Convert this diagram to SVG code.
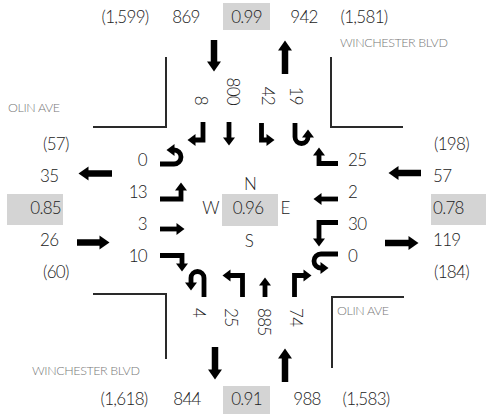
<svg xmlns="http://www.w3.org/2000/svg" width="486" height="414" viewBox="0 0 486 414">
<defs>
<style>
.n{font-family:Lato,"Liberation Sans",sans-serif;font-weight:300;font-size:17px;fill:#222;letter-spacing:-0.7px}
.m{text-anchor:middle}
.e{text-anchor:end}
.r{font-family:Lato,"Liberation Sans",sans-serif;font-weight:300;font-size:12.5px;fill:#777;letter-spacing:-0.4px}
.box{fill:#d4d4d4}
.curb{fill:none;stroke:#2a2a2a;stroke-width:2}
.a{fill:none;stroke:#000;stroke-width:4.8;marker-end:url(#h)}
.b{fill:none;stroke:#000;stroke-width:6.5;marker-end:url(#hb)}
</style>
<marker id="h" markerUnits="userSpaceOnUse" markerWidth="9" markerHeight="12" refX="0.5" refY="6" orient="auto" overflow="visible"><path d="M0,0L8,6L0,12Z"/></marker>
<marker id="hb" markerUnits="userSpaceOnUse" markerWidth="11" markerHeight="14" refX="0.5" refY="7" orient="auto" overflow="visible"><path d="M0,0L10,7L0,14Z"/></marker>
</defs>
<rect width="486" height="414" fill="#fff"/>
<g id="curbs">
<path class="curb" d="M166,57V127H93"/>
<path class="curb" d="M331,57V127H403"/>
<path class="curb" d="M93,294H166V359"/>
<path class="curb" d="M404,297H332V368"/>
</g>
<g id="street-names">
<text class="r" x="8" y="112">OLIN AVE</text>
<text class="r" x="340" y="47">WINCHESTER BLVD</text>
<text class="r" x="32" y="375">WINCHESTER BLVD</text>
<text class="r" x="337" y="315">OLIN AVE</text>
</g>
<g id="north">
<text class="n m" x="125" y="23">(1,599)</text>
<text class="n m" x="186" y="23">869</text>
<rect class="box" x="223" y="3" width="47" height="27"/>
<text class="n m" x="246.5" y="23">0.99</text>
<text class="n m" x="304" y="23">942</text>
<text class="n m" x="364" y="23">(1,581)</text>
<text class="n e" transform="translate(195,105) rotate(90)">8</text>
<text class="n e" transform="translate(227,105) rotate(90)">800</text>
<text class="n e" transform="translate(262,105) rotate(90)">42</text>
<text class="n e" transform="translate(290,105) rotate(90)">19</text>
</g>
<g id="south">
<text class="n m" x="124" y="405">(1,618)</text>
<text class="n m" x="187" y="405">844</text>
<rect class="box" x="223" y="386" width="47" height="28"/>
<text class="n m" x="246.5" y="405">0.91</text>
<text class="n m" x="307" y="405">988</text>
<text class="n m" x="366" y="405">(1,583)</text>
<text class="n" transform="translate(193,308) rotate(90)">4</text>
<text class="n" transform="translate(225,308) rotate(90)">25</text>
<text class="n" transform="translate(258,308) rotate(90)">885</text>
<text class="n" transform="translate(290,308) rotate(90)">74</text>
</g>
<g id="west">
<text class="n" x="43" y="150">(57)</text>
<text class="n" x="40" y="182">35</text>
<rect class="box" x="7" y="194" width="56" height="31"/>
<text class="n e" x="61" y="214">0.85</text>
<text class="n" x="40" y="246">26</text>
<text class="n" x="43" y="278">(60)</text>
<text class="n e" x="147" y="166">0</text>
<text class="n e" x="147" y="198">13</text>
<text class="n e" x="147" y="230">3</text>
<text class="n e" x="147" y="262">10</text>
</g>
<g id="east">
<text class="n" x="434" y="150">(198)</text>
<text class="n" x="433" y="182">57</text>
<rect class="box" x="431" y="194" width="55" height="31"/>
<text class="n" x="433" y="214">0.78</text>
<text class="n" x="433" y="246">119</text>
<text class="n" x="434" y="278">(184)</text>
<text class="n" x="348" y="166">25</text>
<text class="n" x="348" y="198">2</text>
<text class="n" x="348" y="230">30</text>
<text class="n" x="348" y="262">0</text>
</g>
<g id="center">
<rect class="box" x="222" y="194" width="56" height="32"/>
<text class="n m" x="248" y="214">0.96</text>
<text class="n m" x="250" y="190">N</text>
<text class="n m" x="249" y="247">S</text>
<text class="n m" x="210.5" y="214">W</text>
<text class="n m" x="285" y="214">E</text>
</g>
<g id="connectors">
<path class="b" d="M214,40V62"/>
<path class="b" d="M285,74V50"/>
<path class="b" d="M215,347V370"/>
<path class="b" d="M285,382V358"/>
<path class="b" d="M112,173.5H88"/>
<path class="b" d="M77,242.5H100"/>
<path class="b" d="M421,173H398"/>
<path class="b" d="M385,243H409"/>
<path class="a" d="M203,122V140H195"/>
<path class="a" d="M229,122V138"/>
<path class="a" d="M261.5,123V140H267"/>
<path class="a" d="M295,123V137A6.5,6.5 0 0 0 308,137"/>
<path class="a" d="M160,164H174A7,7 0 0 0 174,150"/>
<path class="a" d="M160,199H181V190"/>
<path class="a" d="M160,229H177"/>
<path class="a" d="M160,255.5H182V264"/>
<path class="a" d="M338,163.5H319V155"/>
<path class="a" d="M338,199H321"/>
<path class="a" d="M338,222.5H319V239"/>
<path class="a" d="M338,254H321A7,7 0 0 0 321,268"/>
<path class="a" d="M204,297V278A6.5,6.5 0 0 0 191,278V283"/>
<path class="a" d="M242.5,297V275.5H230"/>
<path class="a" d="M265,297V285"/>
<path class="a" d="M294.5,297V275.5H304"/>
</g>
</svg>
